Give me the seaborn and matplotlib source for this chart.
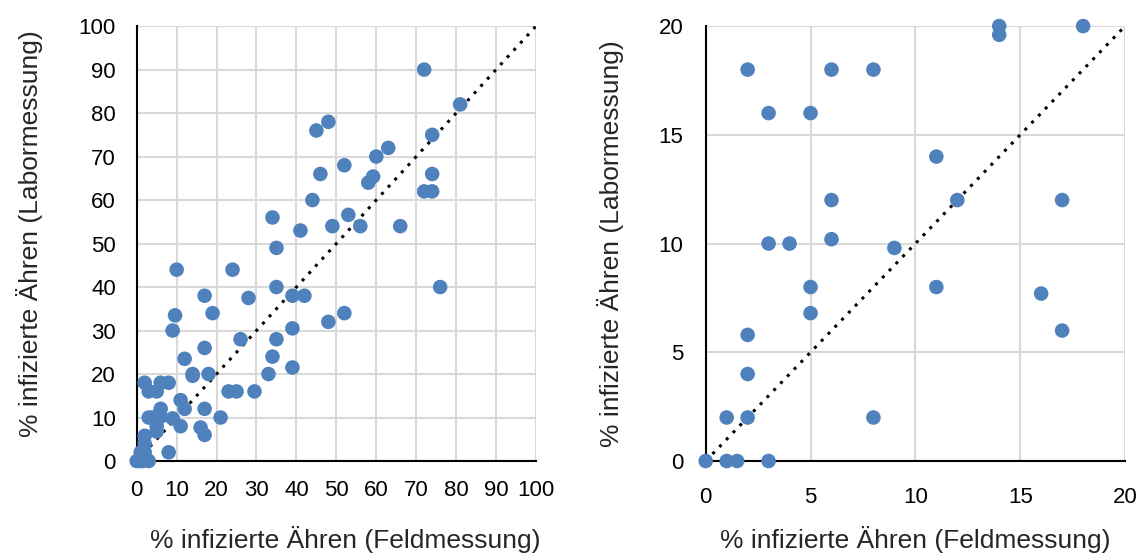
import matplotlib
matplotlib.use("Agg")
import matplotlib.pyplot as plt
import pandas as pd
import seaborn as sns

# ---------- DATA ----------
# Punkte mit Feld- und Laborwert <= 20 (auch im rechten Ausschnitt zu sehen)
feld_klein  = [0, 1, 1.5, 3, 1, 2, 8, 2, 2, 3, 4, 5, 5, 6, 6, 9, 11, 11, 12,
               16, 17, 17, 2, 3, 5, 6, 8, 14, 14, 18]
labor_klein = [0, 0, 0, 0, 2, 2, 2, 4, 5.8, 10, 10, 6.8, 8, 10.2, 12, 9.8, 8, 14, 12,
               7.7, 6, 12, 18, 16, 16, 18, 18, 20, 19.6, 20]

# restliche Punkte (nur im linken Diagramm)
feld_gross  = [72, 81, 48, 45, 74, 63, 60, 74, 46, 59.2, 58, 52, 72, 74, 44, 53,
               41, 49, 56, 66, 76, 34, 35, 24, 35, 28, 39, 42, 52, 48, 39, 26,
               35, 34, 39, 33, 23, 25, 29.5, 21, 10, 17, 9.6, 19, 9, 17, 12]
labor_gross = [90, 82, 78, 76, 75, 72, 70, 66, 66, 65.4, 64, 68, 62, 62, 60, 56.6,
               53, 54, 54, 54, 40, 56, 49, 44, 40, 37.5, 38, 38, 34, 32, 30.5, 28,
               28, 24, 21.5, 20, 16, 16, 16, 10, 44, 38, 33.5, 34, 30, 26, 23.5]

TICKS_LINKS  = list(range(0, 101, 10))
TICKS_RECHTS = list(range(0, 21, 5))
XLABEL = "% infizierte Ähren (Feldmessung)"
YLABEL = "% infizierte Ähren (Labormessung)"

BLAU  = "#4F81BD"
GRID  = "#D9D9D9"

df_alle = pd.DataFrame({"feld": feld_klein + feld_gross,
                        "labor": labor_klein + labor_gross})
df_klein = pd.DataFrame({"feld": feld_klein, "labor": labor_klein})

# ---------- PLOT ----------
sns.set_style("white")
plt.rcParams["font.family"] = ["Liberation Sans", "DejaVu Sans"]

fig = plt.figure(figsize=(11.46, 5.59), dpi=100)
ax_l = fig.add_axes([0.1193, 0.1753, 0.3484, 0.778])
ax_r = fig.add_axes([0.6158, 0.1753, 0.3659, 0.778])


def style_axis(ax, df, ticks, xpad, ypad, xlpad, ylpad):
    lim = ticks[-1]
    ax.axline((0, 0), slope=1, color="black", linestyle=(0, (1, 2.2)),
              linewidth=2.2, zorder=3)
    sns.scatterplot(data=df, x="feld", y="labor", ax=ax, color=BLAU, s=110,
                    edgecolor="none", linewidth=0, zorder=4, clip_on=False)
    ax.set_xlim(0, lim)
    ax.set_ylim(0, lim)
    ax.set_xticks(ticks)
    ax.set_yticks(ticks)
    ax.grid(True, color=GRID, linewidth=1.5)
    ax.set_axisbelow(True)
    for s in ["top", "right"]:
        ax.spines[s].set_visible(False)
    for s in ["left", "bottom"]:
        ax.spines[s].set_color("black")
        ax.spines[s].set_linewidth(1.5)
        ax.spines[s].set_zorder(2)
    ax.tick_params(axis="both", length=0, labelsize=16, colors="black")
    ax.tick_params(axis="x", pad=xpad)
    ax.tick_params(axis="y", pad=ypad)
    ax.set_xlabel(XLABEL, fontsize=19, labelpad=xlpad)
    ax.set_ylabel(YLABEL, fontsize=19, labelpad=ylpad)


style_axis(ax_l, df_alle, TICKS_LINKS, 14, 15, 18, 26)
style_axis(ax_r, df_klein, TICKS_RECHTS, 19, 16, 13, 25)

# Achsentitel links leicht versetzt wie im Original
ax_l.xaxis.label.set_x(0.522)
ax_l.yaxis.label.set_y(0.522)

fig.savefig("out.png", dpi=100)
